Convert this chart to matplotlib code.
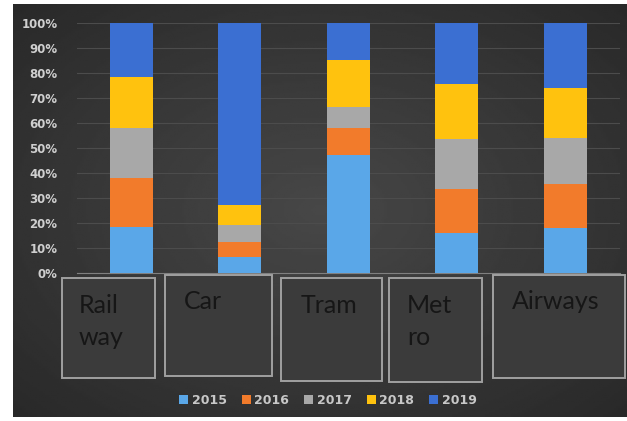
import numpy as np
import matplotlib.pyplot as plt
from matplotlib.patches import Rectangle

categories = ["Rail\nway", "Car", "Tram", "Met\nro", "Airways"]
years = ["2015", "2016", "2017", "2018", "2019"]
shares = {
    "2015": [18.5, 6.5, 47.0, 16.1, 17.8],
    "2016": [19.3, 6.0, 11.0, 17.3, 17.6],
    "2017": [20.0, 6.7, 8.4, 20.0, 18.6],
    "2018": [20.6, 8.0, 18.7, 22.1, 19.8],
    "2019": [21.6, 72.8, 14.9, 24.5, 26.2],
}
colors = ["#5aa7e8", "#f27b2b", "#a8a8a8", "#ffc20e", "#3b6fd2"]

W, H = 627, 421
fig = plt.figure(figsize=(W / 100, H / 100), dpi=100, facecolor="white")

def px(x0, y0, x1, y1):
    # pixel box (top-left origin) -> figure fraction rect
    return [x0 / W, 1 - y1 / H, (x1 - x0) / W, (y1 - y0) / H]

# dark gradient backdrop
bg = fig.add_axes(px(13, 4, 627, 417))
yy, xx = np.mgrid[-1:1:200j, -1:1:300j]
r = np.sqrt(xx ** 2 + yy ** 2) / np.sqrt(2)
bg.imshow(0.28 - 0.12 * r, cmap="gray", vmin=0, vmax=1, aspect="auto",
          extent=[0, 1, 0, 1])
bg.set_axis_off()

ax = fig.add_axes(px(77, 22.7, 619.5, 273))
ax.set_facecolor("none")
x = np.arange(len(categories))
bottom = np.zeros(len(categories))
for yr, c in zip(years, colors):
    vals = np.array(shares[yr])
    ax.bar(x, vals, 0.4, bottom=bottom, color=c, label=yr, zorder=3)
    bottom += vals

ax.set_xlim(-0.5, len(categories) - 0.5)
ax.set_ylim(0, 100)
ax.set_yticks(range(0, 101, 10))
ax.set_yticklabels([f"{v}%" for v in range(0, 101, 10)])
ax.tick_params(axis="y", length=0, pad=14, labelsize=8.5, labelcolor="#cfcfcf")
for lab in ax.get_yticklabels():
    lab.set_fontweight("bold")
ax.set_xticks([])
ax.grid(axis="y", color="#4c4c4c", lw=0.8, zorder=0)
for s in ["top", "right", "left"]:
    ax.spines[s].set_visible(False)
ax.spines["bottom"].set_color("#808080")

# category boxes
boxes = [(62, 278, 155, 378), (165, 275, 272, 376), (281, 278, 382, 381),
         (389, 278, 482, 382), (493, 275, 625, 378)]
text_pos = [(79, 294), (184, 290), (301, 294), (407, 294), (512, 290)]
for (x0, y0, x1, y1), (tx, ty), name in zip(boxes, text_pos, categories):
    fig.patches.append(Rectangle((x0 / W, 1 - y1 / H), (x1 - x0) / W, (y1 - y0) / H,
                                 transform=fig.transFigure, facecolor="#3b3b3b",
                                 edgecolor="#a0a0a0", lw=1.4, zorder=5))
    fig.text(tx / W, 1 - ty / H, name, ha="left", va="top", fontsize=18,
             family="Lato", color="#161616", linespacing=1.45, zorder=6)

leg = fig.legend(loc="center", bbox_to_anchor=(328 / W, 1 - 400 / H), ncol=5,
                 frameon=False, fontsize=9, handlelength=0.7, handleheight=0.7,
                 handletextpad=0.3, columnspacing=1.2)
for t in leg.get_texts():
    t.set_color("#c8c8c8")
    t.set_fontweight("bold")

fig.savefig("out.png", dpi=100, facecolor="white")
